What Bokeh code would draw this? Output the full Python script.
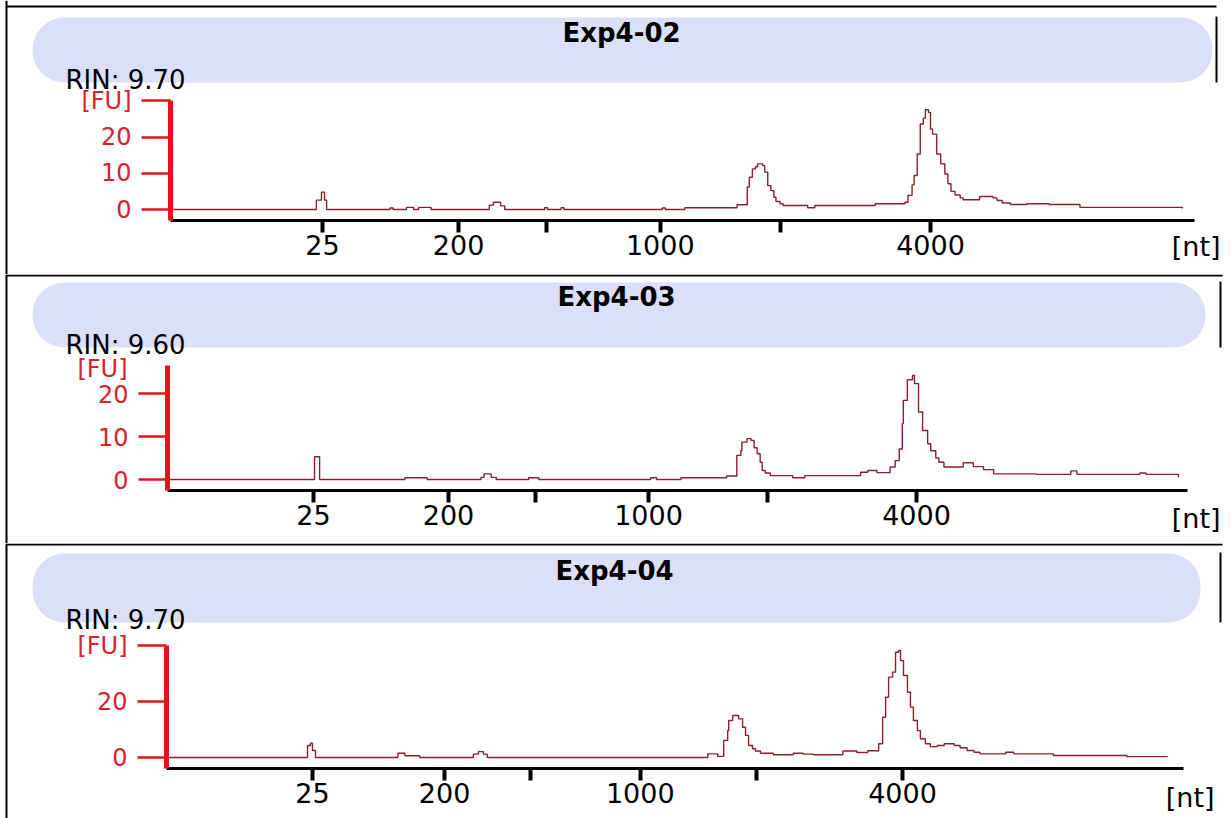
from bokeh.plotting import figure
from bokeh.models import Range1d, LinearAxis, FixedTicker, BoxAnnotation, Label
from bokeh.layouts import column
from bokeh.embed import file_html
from bokeh.resources import INLINE

# ------------------------------------------------------------------ data
titles = ["Exp4-02", "Exp4-03", "Exp4-04"]
rin_values = ["9.70", "9.60", "9.70"]

# ladder bands (nt) and their migration time (s); some bands are unlabelled
ladder_label = ["25", "200", "", "1000", "", "4000"]
ladder_time = [26.4, 33.05, 37.35, 42.9, 48.75, 56.1]

# electropherogram traces: migration time (s) -> fluorescence (FU)
time_02 = [19.0, 26.1, 26.35, 26.5, 26.6, 29.7, 29.85, 30.5, 30.85, 31.1, 31.7,
           34.55, 34.75, 35.1, 35.3, 37.25, 37.4, 38.05, 38.2, 43.0, 43.15, 44.1,
           46.65, 47.15, 47.25, 47.4, 47.55, 47.65, 47.9, 48.0, 48.15, 48.3, 48.45,
           48.55, 48.75, 48.9, 50.1, 50.45, 53.4, 54.85, 55.0, 55.2, 55.3, 55.45,
           55.6, 55.75, 55.85, 56.0, 56.1, 56.2, 56.4, 56.6, 56.8, 56.95, 57.1,
           57.3, 57.55, 57.7, 58.5, 59.15, 59.35, 59.6, 60.0, 60.8, 61.9, 63.4,
           64.7, 68.4]
fu_02 = [0.0, 2.6, 4.8, 2.6, 0.0, 0.4, 0.0, 0.6, 0.0, 0.6, 0.0,
         1.2, 2.0, 1.0, 0.0, 0.5, 0.0, 0.5, 0.0, 0.4, 0.0, 0.5,
         1.3, 6.2, 8.9, 11.2, 11.8, 12.6, 12.1, 10.3, 6.6, 5.2, 3.4,
         2.2, 1.6, 1.1, 0.5, 1.1, 1.6, 2.0, 3.9, 6.8, 9.4, 15.3,
         23.6, 25.2, 27.5, 26.8, 22.2, 20.8, 15.3, 12.6, 9.8, 7.1, 5.0,
         4.0, 3.2, 2.7, 3.6, 3.2, 2.5, 1.8, 1.4, 1.6, 1.4, 0.6,
         0.6, 0.3]

time_03 = [19.2, 26.45, 26.7, 30.9, 32.0, 34.65, 34.8, 35.15, 35.4, 37.0, 37.5,
           43.0, 43.3, 44.5, 46.75, 47.25, 47.45, 47.5, 47.75, 47.95, 48.1, 48.25,
           48.4, 48.5, 48.65, 48.9, 50.0, 50.6, 53.35, 53.7, 54.15, 54.8, 55.05,
           55.25, 55.4, 55.45, 55.65, 55.9, 56.0, 56.2, 56.4, 56.65, 56.8, 57.05,
           57.2, 57.45, 58.4, 58.9, 59.4, 59.9, 62.0, 63.7, 64.0, 67.1, 67.4, 69.0]
fu_03 = [0.0, 5.3, 0.0, 0.4, 0.0, 0.5, 1.3, 0.5, 0.0, 0.4, 0.0,
         0.4, 0.0, 0.4, 0.8, 5.6, 6.7, 8.7, 9.5, 9.1, 7.4, 6.0,
         4.0, 2.1, 1.5, 0.9, 0.4, 0.9, 1.7, 2.1, 1.6, 2.9, 4.4,
         7.1, 13.0, 18.4, 23.2, 24.2, 22.3, 15.7, 11.4, 8.3, 6.7, 5.0,
         4.0, 2.9, 3.9, 3.0, 2.3, 1.3, 1.2, 2.0, 1.2, 1.5, 1.2, 0.5]

time_04 = [19.1, 26.15, 26.3, 26.4, 26.55, 30.7, 31.05, 31.8, 34.5, 34.75, 35.0,
           35.2, 46.3, 46.8, 47.1, 47.3, 47.35, 47.55, 47.85, 48.05, 48.2, 48.35,
           48.55, 48.7, 48.95, 49.6, 50.6, 51.1, 51.6, 52.3, 52.6, 53.1, 53.8,
           54.35, 54.9, 55.1, 55.25, 55.4, 55.6, 55.75, 55.9, 56.0, 56.15, 56.35,
           56.5, 56.65, 56.85, 57.0, 57.25, 57.5, 57.85, 58.2, 58.7, 59.0, 59.35,
           59.7, 60.0, 61.3, 61.7, 63.7, 67.4, 69.45]
fu_04 = [0.0, 4.3, 5.1, 2.5, 0.0, 1.5, 0.6, 0.0, 1.2, 2.1, 1.2,
         0.0, 1.3, 0.4, 6.1, 9.6, 13.2, 15.0, 13.8, 10.8, 7.9, 4.3,
         3.1, 2.3, 1.5, 1.0, 1.5, 1.2, 1.0, 1.0, 1.0, 2.3, 1.8,
         2.4, 4.9, 14.4, 21.5, 28.7, 30.5, 37.6, 38.2, 34.6, 29.3, 23.3,
         18.0, 13.2, 9.6, 6.7, 4.9, 3.9, 4.3, 4.9, 4.3, 3.5, 2.5,
         1.9, 1.3, 1.9, 1.3, 0.7, 0.3, 0.3]

fu_ticks = [[0, 10, 20, 30], [0, 10, 20], [0, 20, 40]]
fu_axis_top = [30, 26.5, 40]     # where the [FU] unit sits on each axis

traces = [(time_02, fu_02), (time_03, fu_03), (time_04, fu_04)]

# ------------------------------------------------------------------ style / layout (page pixels)
FONT = "DejaVu Sans"
RED = "#e3141c"
RED_TXT = "#d8232a"
LAV = "#dcdffa"
TRACE = "#8d1f2d"
W = 1230
PAGE_LEFT = 0

layouts = [
    dict(top=0, h=274, px25=322, px4000=930, y0=209, y20=136.5, ax_x=170, ax_end=1194, ax_y=220,
         head=(32, 1212, 17, 82), head_line_x=1216, title_x=621, title_y=32, rin_y=79,
         nt_x=1220, nt_y=246, top_line=6, top_line_end=1216),
    dict(top=274, h=269, px25=313, px4000=916, y0=479, y20=393, ax_x=167, ax_end=1187, ax_y=490,
         head=(32, 1205, 282, 347), head_line_x=1220, title_x=616, title_y=296, rin_y=344,
         nt_x=1220, nt_y=518, top_line=275, top_line_end=1222),
    dict(top=543, h=275, px25=312, px4000=902, y0=757, y20=701, ax_x=166, ax_end=1183, ax_y=768,
         head=(32, 1200, 553, 622), head_line_x=1220, title_x=614, title_y=570, rin_y=619,
         nt_x=1214, nt_y=797, top_line=544, top_line_end=1222),
]

labelled_time = [t for t, lab in zip(ladder_time, ladder_label) if lab]
unlabelled_time = [t for t, lab in zip(ladder_time, ladder_label) if not lab]


def build(i):
    L = layouts[i]
    times, fus = traces[i]
    s = (ladder_time[-1] - ladder_time[0]) / (L["px4000"] - L["px25"])

    def tx(px):
        return ladder_time[0] + (px - L["px25"]) * s

    k = 20.0 / (L["y0"] - L["y20"])

    def fy(py):
        return (L["y0"] - py) * k

    top, h = L["top"], L["h"]
    p = figure(width=W, height=h,
               x_range=Range1d(tx(PAGE_LEFT), tx(PAGE_LEFT + W)),
               y_range=Range1d(fy(top + h), fy(top)),
               x_axis_location=None, y_axis_location=None,
               toolbar_location=None, output_backend="svg",
               min_border=0, outline_line_color=None,
               background_fill_color="white", border_fill_color="white")
    p.title.visible = False
    for g in p.xgrid + p.ygrid:
        g.visible = False

    # header band
    hl, hr, ht, hb = L["head"]
    p.add_layout(BoxAnnotation(left=tx(hl), right=tx(hr), top=fy(ht), bottom=fy(hb),
                               fill_color=LAV, fill_alpha=1.0, line_color=None,
                               border_radius=32, level="underlay"))

    # panel frame lines
    p.segment(x0=[tx(6), tx(6), tx(L["head_line_x"])],
              y0=[fy(top), fy(L["top_line"]), fy(ht - 1)],
              x1=[tx(6), tx(L["top_line_end"]), tx(L["head_line_x"])],
              y1=[fy(top + h), fy(L["top_line"]), fy(hb)],
              line_color="black", line_width=2)

    # trace
    p.step(times, fus, mode="after", line_color=TRACE, line_width=1.4)

    # axes
    xa = LinearAxis(fixed_location=fy(L["ax_y"]), bounds=(tx(L["ax_x"]), tx(L["ax_end"])),
                    ticker=FixedTicker(ticks=labelled_time, minor_ticks=unlabelled_time),
                    major_label_overrides={t: lab for t, lab in zip(ladder_time, ladder_label) if lab},
                    axis_line_color="black", axis_line_width=3,
                    major_tick_line_color="black", major_tick_line_width=4,
                    major_tick_out=12, major_tick_in=0,
                    minor_tick_line_color="black", minor_tick_line_width=4,
                    minor_tick_out=12, minor_tick_in=0,
                    major_label_text_font=FONT, major_label_text_font_size="27px",
                    major_label_text_color="black", major_label_standoff=2)
    p.add_layout(xa, "below")

    ytop = fu_axis_top[i]
    overrides = {ytop: "[FU]"} if ytop in fu_ticks[i] else {}
    ya = LinearAxis(fixed_location=tx(L["ax_x"]), bounds=(fy(L["ax_y"]), ytop),
                    ticker=FixedTicker(ticks=fu_ticks[i], minor_ticks=[]),
                    major_label_overrides=overrides,
                    axis_line_color=RED, axis_line_width=5,
                    major_tick_line_color=RED, major_tick_line_width=2.5,
                    major_tick_out=29, major_tick_in=0, minor_tick_out=0, minor_tick_in=0,
                    major_label_text_font=FONT, major_label_text_font_size="24px",
                    major_label_text_color=RED_TXT, major_label_standoff=10)
    p.add_layout(ya, "left")
    if not overrides:
        p.add_layout(Label(x=tx(127), y=fy(368.5),
                           text="[FU]", text_font=FONT, text_font_size="24px",
                           text_color=RED_TXT, text_align="right", text_baseline="middle"))

    # texts
    p.add_layout(Label(x=tx(L["title_x"]), y=fy(L["title_y"]), text=titles[i],
                       text_font=FONT, text_font_size="26px", text_font_style="bold",
                       text_color="black", text_align="center", text_baseline="middle"))
    p.add_layout(Label(x=tx(65), y=fy(L["rin_y"]), text=f"RIN: {rin_values[i]}",
                       text_font=FONT, text_font_size="26px", text_color="black",
                       text_align="left", text_baseline="alphabetic"))
    p.add_layout(Label(x=tx(L["nt_x"]), y=fy(L["nt_y"]), text="[nt]",
                       text_font=FONT, text_font_size="27px", text_color="black",
                       text_align="right", text_baseline="middle"))
    return p


layout = column(*[build(i) for i in range(3)], spacing=0)
open("out.html", "w").write(file_html(layout, INLINE))
